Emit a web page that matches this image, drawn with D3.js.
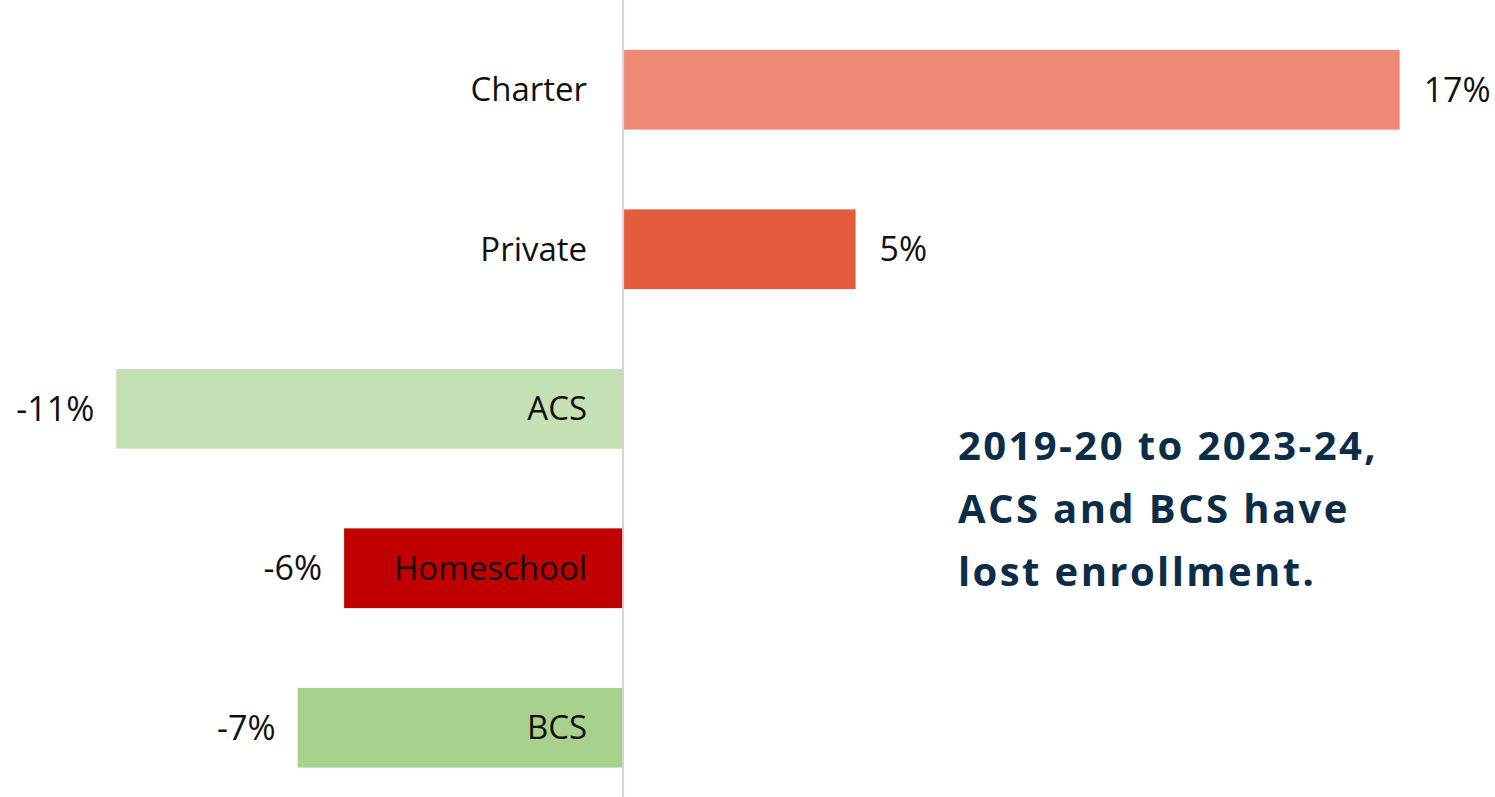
<!DOCTYPE html>
<html>
<head>
<meta charset="utf-8">
<script src="https://d3js.org/d3.v7.min.js"></script>
<style>
  html, body { margin: 0; padding: 0; background: #fff; }
  svg { display: block; }
</style>
</head>
<body>
<div id="chart"></div>
<script>
// enrollment change by school type, 2019-20 to 2023-24
const categories = ['Charter', 'Private', 'ACS', 'Homeschool', 'BCS'];
const values = [16.7, 5.0, -10.9, -6.0, -7.0];
const valueLabels = ['17%', '5%', '-11%', '-6%', '-7%'];
const barColors = ['#ee8a74', '#e45c3e', '#c5e0b4', '#c00000', '#a9d18e'];
const titleLines = ['2019-20 to 2023-24,', 'ACS and BCS have', 'lost enrollment.'];

const w = 1495;
const h = 797;

let data = categories.map(function (c, i) {
  return { name: c, value: values[i], label: valueLabels[i], color: barColors[i] };
});

let svg = d3.select('#chart').append('svg')
  .attr('width', w)
  .attr('height', h);

let x = d3.scaleLinear()
  .domain([-13.4, 18.75])
  .range([0, w]);

let y = d3.scaleBand()
  .domain(categories)
  .range([10, 807.5])
  .paddingInner(0.5)
  .paddingOuter(0.25);

// bars
svg.selectAll('rect.bar')
  .data(data)
  .enter()
  .append('rect')
  .attr('class', 'bar')
  .attr('x', d => x(Math.min(0, d.value)))
  .attr('y', d => y(d.name))
  .attr('width', d => Math.abs(x(d.value) - x(0)))
  .attr('height', y.bandwidth())
  .attr('fill', d => d.color);

// zero line
svg.append('line')
  .attr('x1', x(0)).attr('x2', x(0))
  .attr('y1', 0).attr('y2', h)
  .attr('stroke', '#d4d4d4')
  .attr('stroke-width', 2);

// category names, right aligned just left of the axis
svg.selectAll('text.cat')
  .data(data)
  .enter()
  .append('text')
  .attr('class', 'cat')
  .attr('x', x(0) - 36)
  .attr('y', d => y(d.name) + y.bandwidth() / 2)
  .attr('dy', '0.35em')
  .attr('text-anchor', 'end')
  .style('font-family', '"Open Sans", sans-serif')
  .style('font-size', '33px')
  .attr('fill', '#111')
  .text(d => d.name);

// value labels
svg.selectAll('text.val')
  .data(data)
  .enter()
  .append('text')
  .attr('class', 'val')
  .attr('x', d => d.value >= 0 ? x(d.value) + 24 : x(d.value) - 22)
  .attr('y', d => y(d.name) + y.bandwidth() / 2)
  .attr('dy', '0.35em')
  .attr('text-anchor', d => d.value >= 0 ? 'start' : 'end')
  .style('font-family', '"Open Sans", sans-serif')
  .style('font-size', '34px')
  .attr('fill', '#111')
  .text(d => d.label);

// annotation
svg.append('text')
  .attr('x', 958)
  .attr('y', 460)
  .style('font-family', '"Open Sans", sans-serif')
  .style('font-weight', 700)
  .style('font-size', '40px')
  .style('letter-spacing', '2.4px')
  .attr('fill', '#0c2d48')
  .selectAll('tspan')
  .data(titleLines)
  .enter()
  .append('tspan')
  .attr('x', 958)
  .attr('dy', (d, i) => i === 0 ? 0 : 63)
  .text(d => d);
</script>
</body>
</html>
